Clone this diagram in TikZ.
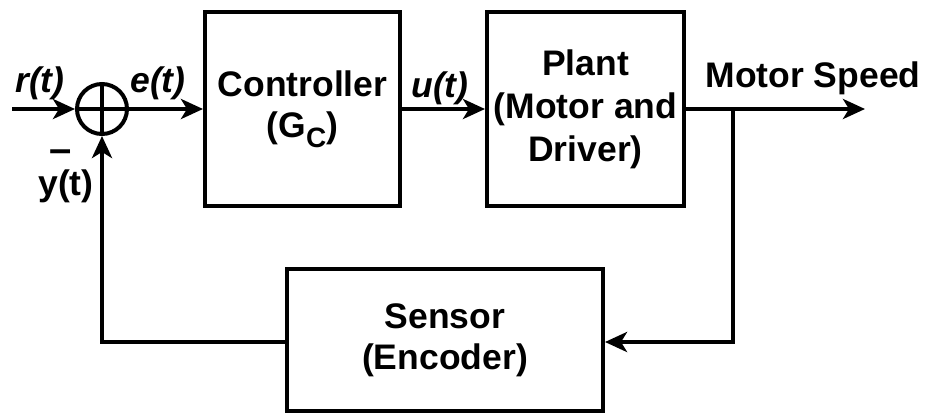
\documentclass[tikz,border=0pt]{standalone}
\usepackage{fontspec}
\setmainfont{Liberation Sans}
\usetikzlibrary{arrows.meta}

% block and label text: bold sans
\newcommand\blkfont{\fontsize{35.5}{41}\selectfont\bfseries}

\tikzset{
  blk/.style={draw, line width=4pt, inner sep=0pt, align=center, font=\blkfont},
  sumjn/.style={draw, circle, line width=4pt, inner sep=0pt, minimum size=50pt},
  sig/.style={line width=4pt, -{Stealth[length=22pt, width=20pt, inset=6pt]}},
  wire/.style={line width=4pt},
  lbl/.style={anchor=base, inner sep=0pt, font=\blkfont},
  ilbl/.style={lbl, font=\blkfont\itshape},
}

\begin{document}
\begin{tikzpicture}[x=1pt, y=-1pt]
  \path[use as bounding box] (0,0) rectangle (928,415);

  % blocks
  \node[sumjn] (sum) at (102,109) {};
  \node[blk, minimum width=195pt, minimum height=194pt] (ctrl) at (302.5,109)
    {Controller\\(G\raisebox{-0.28em}{\fontsize{28}{28}\selectfont C})};
  \node[blk, minimum width=197pt, minimum height=194pt,
        font=\fontsize{35.5}{43}\selectfont\bfseries] (plant) at (585.5,109)
    {Plant\\(Motor and\\Driver)};
  \node[blk, minimum width=316pt, minimum height=142pt] (sensor) at (445,340)
    {Sensor\\(Encoder)};

  % plus sign inside the summing junction
  \draw[wire] (sum.north) -- (sum.south);
  \draw[wire] (sum.west) -- (sum.east);

  % signal path
  \coordinate (in) at (12,109);
  \coordinate (out) at (865,109);
  \coordinate (tap) at (733,109);
  \draw[sig] (in) -- (sum.west);
  \draw[sig] (sum.east) -- (ctrl.west);
  \draw[sig] (ctrl.east) -- (plant.west);
  \draw[sig] (plant.east) -- (out);

  % feedback loop
  \draw[sig] (tap) |- ([yshift=-2pt]sensor.east);
  \draw[sig] ([yshift=-2pt]sensor.west) -| (sum.south);

  % signal labels
  \node[ilbl] (rlbl) at (40,92) {r(t)};
  \node[ilbl] (elbl) at (158,92) {e(t)};
  \node[ilbl] (ulbl) at (440,97) {u(t)};
  \node[lbl] (speed) at (813,87) {Motor Speed};
  \node[lbl, font=\fontsize{40}{40}\selectfont\bfseries] (minus) at (61,162) {–};
  \node[lbl] (ylbl) at (66,195) {y(t)};
\end{tikzpicture}
\end{document}
